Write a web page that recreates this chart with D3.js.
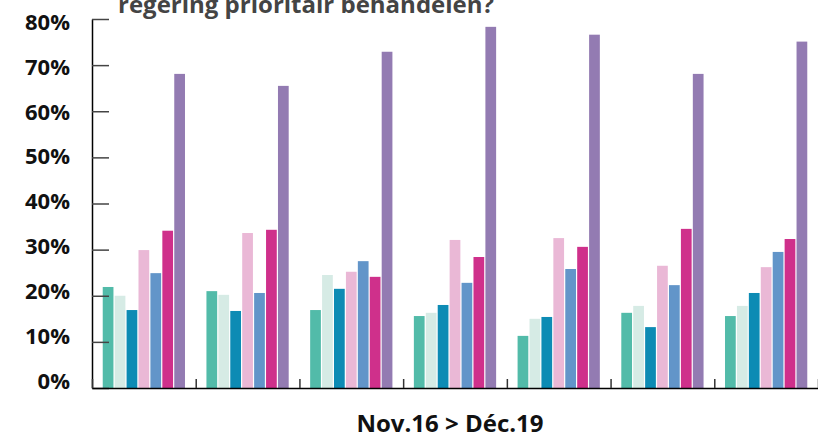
<!DOCTYPE html>
<html>
<head>
<meta charset="utf-8">
<script src="https://cdn.jsdelivr.net/npm/d3@7"></script>
<style>
  body { margin: 0; background: #fff; }
  text { font-family: "Open Sans", sans-serif; }
</style>
</head>
<body>
<div id="chart"></div>
<script>
// one group per survey wave, one bar per answer category
const groups = ["w1", "w2", "w3", "w4", "w5", "w6", "w7"];
const series = ["s1", "s2", "s3", "s4", "s5", "s6", "s7"];
const colors = ["#52bba9", "#d6ebe5", "#0d8bb4", "#eab8d6", "#6295c9", "#cf308b", "#937bb2"];

const s1 = [21.9, 21.0, 16.9, 15.6, 11.3, 16.3, 15.6];
const s2 = [20.0, 20.2, 24.5, 16.3, 15.0, 17.8, 17.8];
const s3 = [16.9, 16.7, 21.5, 18.0, 15.4, 13.2, 20.6];
const s4 = [29.9, 33.6, 25.2, 32.1, 32.5, 26.5, 26.2];
const s5 = [24.9, 20.6, 27.5, 22.8, 25.8, 22.3, 29.5];
const s6 = [34.1, 34.3, 24.1, 28.4, 30.6, 34.5, 32.3];
const s7 = [68.1, 65.5, 72.9, 78.3, 76.6, 68.1, 75.1];
const values = [s1, s2, s3, s4, s5, s6, s7];

const yTicks = [0, 10, 20, 30, 40, 50, 60, 70, 80];
const titleText = "regering prioritair behandelen?";
const xLabel = "Nov.16 > Déc.19";

const width = 818, height = 438;
const margin = { left: 92, right: 0, top: 19, bottom: 50 };

const svg = d3.select("#chart").append("svg")
  .attr("width", width)
  .attr("height", height);

const x0 = d3.scaleBand()
  .domain(groups)
  .range([margin.left, width - margin.right])
  .padding(0);

const x1 = d3.scaleBand()
  .domain(series)
  .range([0, x0.bandwidth()])
  .paddingInner(0.1)
  .paddingOuter(0.9);

const y = d3.scaleLinear()
  .domain([0, 80])
  .range([height - margin.bottom, margin.top]);

const color = d3.scaleOrdinal().domain(series).range(colors);

// bars
const g = svg.append("g")
  .selectAll("g")
  .data(groups)
  .join("g")
  .attr("transform", d => `translate(${x0(d)},0)`);

g.selectAll("rect")
  .data((d, gi) => series.map((s, si) => ({ s, v: values[si][gi] })))
  .join("rect")
  .attr("x", d => x1(d.s))
  .attr("y", d => y(d.v))
  .attr("width", x1.bandwidth())
  .attr("height", d => y(0) - y(d.v))
  .attr("fill", d => color(d.s));

// y axis, ticks pointing inward
const yAxis = svg.append("g")
  .attr("transform", `translate(${margin.left},0)`)
  .call(d3.axisLeft(y).tickValues(yTicks).tickSize(-17).tickSizeOuter(0).tickPadding(22)
    .tickFormat(d => d + "%"));
yAxis.select(".domain").attr("stroke", "#000").attr("stroke-width", 1.5);
yAxis.selectAll(".tick line").attr("stroke", "#444").attr("stroke-width", 1.5);
// labels in the original sit on a slightly tighter spacing than the ticks
yAxis.selectAll(".tick text")
  .attr("fill", "#111")
  .attr("font-size", 22)
  .attr("font-weight", 700)
  .attr("transform", d => `translate(0,${-7 + 0.13 * d})`);

// x axis with separators between groups
const sepScale = d3.scaleLinear().domain([0, groups.length]).range(x0.range());
const xAxis = svg.append("g")
  .attr("transform", `translate(0,${y(0)})`)
  .call(d3.axisBottom(sepScale).tickValues(d3.range(groups.length + 1)).tickSize(-9).tickSizeOuter(0).tickFormat(""));
xAxis.select(".domain").attr("stroke", "#000").attr("stroke-width", 1.5);
xAxis.selectAll(".tick line").attr("stroke", "#333").attr("stroke-width", 1.5);

svg.append("text")
  .attr("x", 450)
  .attr("y", 432)
  .attr("text-anchor", "middle")
  .attr("font-size", 24)
  .attr("font-weight", 700)
  .attr("fill", "#111")
  .text(xLabel);

svg.append("text")
  .attr("x", 118)
  .attr("y", 13)
  .attr("font-size", 24)
  .attr("font-weight", 700)
  .attr("fill", "#444")
  .text(titleText);
</script>
</body>
</html>
